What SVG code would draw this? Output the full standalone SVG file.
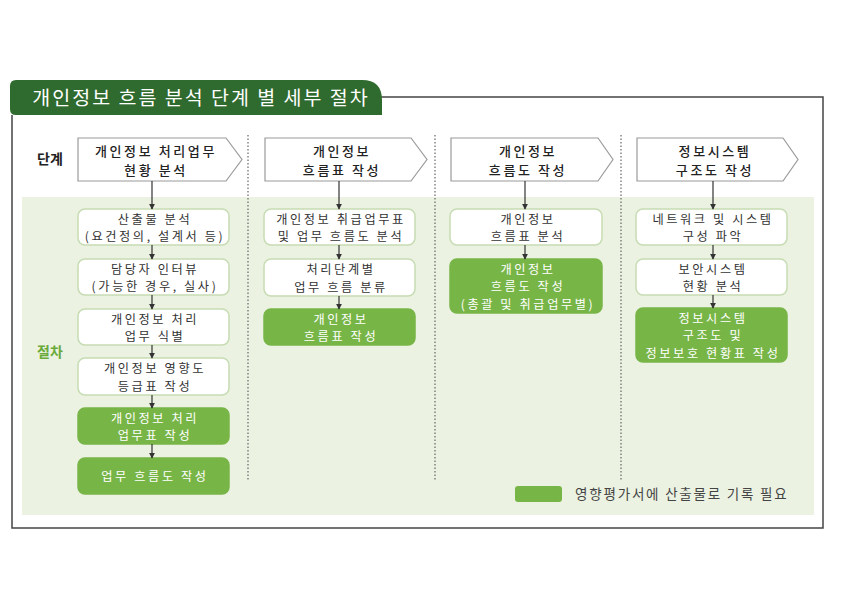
<svg xmlns="http://www.w3.org/2000/svg" width="842" height="595" viewBox="0 0 842 595">
<style>
text{font-family:"Noto Sans CJK KR","Noto Sans",sans-serif;text-anchor:middle}
.stage{fill:#fff;stroke:#9a9a9a;stroke-width:1.2}
.st{font-size:13px;font-weight:500;fill:#222;letter-spacing:2.6px}
.box{fill:#fff;stroke:#c6dcb2;stroke-width:1.5}
.gbox{fill:#78b547;stroke:#78b547;stroke-width:1.5}
.bt{font-size:12.2px;fill:#333;letter-spacing:2.6px}
.gt{font-size:12.2px;fill:#fff;letter-spacing:2.6px}
.sep{stroke:#666;stroke-width:1.2;stroke-dasharray:1.5 2}
.con line{stroke:#333;stroke-width:1.2;marker-end:url(#ah)}
</style>
<defs>
<marker id="ah" viewBox="0 0 8 8" refX="7" refY="4" markerWidth="6" markerHeight="6" markerUnits="userSpaceOnUse" orient="auto"><path d="M0,0 L8,4 L0,8 z" fill="#333"/></marker>
</defs>
<rect width="842" height="595" fill="#fff"/>
<g id="frame">
<path d="M380,97 H823 V528 H12 V115" fill="none" stroke="#444" stroke-width="1.5"/>
<rect x="22" y="197" width="792" height="318" fill="#ebf2e2"/>
</g>
<g id="title">
<path d="M10,86 Q10,80 16,80 H362 Q382,80 382,100 V115 H16 Q10,115 10,109 Z" fill="#2f6a2e"/>
<text x="201" y="105" style="font-size:19.5px;fill:#fff;letter-spacing:2px">개인정보 흐름 분석 단계 별 세부 절차</text>
</g>
<g id="labels">
<text x="50" y="164" style="font-size:14px;font-weight:700;fill:#222">단계</text>
<text x="50" y="357" style="font-size:14px;font-weight:700;fill:#6aaa3a">절차</text>
</g>
<g id="separators">
<line class="sep" x1="248" y1="135" x2="248" y2="480"/>
<line class="sep" x1="435" y1="135" x2="435" y2="480"/>
<line class="sep" x1="621" y1="135" x2="621" y2="480"/>
</g>
<g id="stage1"><path class="stage" d="M78,138 H226 L242,159.5 L226,181 H78 Z"/><text class="st"><tspan x="156" y="156">개인정보 처리업무</tspan><tspan x="156" y="175">현황 분석</tspan></text></g>
<g id="stage2"><path class="stage" d="M265,138 H411 L427,159.5 L411,181 H265 Z"/><text class="st"><tspan x="342" y="156">개인정보</tspan><tspan x="342" y="175">흐름표 작성</tspan></text></g>
<g id="stage3"><path class="stage" d="M451,138 H598 L613,159.5 L598,181 H451 Z"/><text class="st"><tspan x="528" y="156">개인정보</tspan><tspan x="528" y="175">흐름도 작성</tspan></text></g>
<g id="stage4"><path class="stage" d="M637,138 H783 L798,159.5 L783,181 H637 Z"/><text class="st"><tspan x="715" y="156">정보시스템</tspan><tspan x="715" y="175">구조도 작성</tspan></text></g>

<g id="c1b1"><rect class="box" x="78" y="209" width="151" height="36" rx="7"/><text class="bt"><tspan x="155" y="223.5">산출물 분석</tspan><tspan x="155" y="241.2">(요건정의, 설계서 등)</tspan></text></g>
<g id="c1b2"><rect class="box" x="78" y="259" width="151" height="36" rx="7"/><text class="bt"><tspan x="155" y="273.5">담당자 인터뷰</tspan><tspan x="155" y="291.2">(가능한 경우, 실사)</tspan></text></g>
<g id="c1b3"><rect class="box" x="78" y="309" width="151" height="36" rx="7"/><text class="bt"><tspan x="155" y="323.5">개인정보 처리</tspan><tspan x="155" y="341.2">업무 식별</tspan></text></g>
<g id="c1b4"><rect class="box" x="78" y="358" width="151" height="37" rx="7"/><text class="bt"><tspan x="155" y="373">개인정보 영향도</tspan><tspan x="155" y="390.7">등급표 작성</tspan></text></g>
<g id="c1b5"><rect class="gbox" x="78" y="408" width="151" height="36" rx="7"/><text class="gt"><tspan x="155" y="422.5">개인정보 처리</tspan><tspan x="155" y="440.2">업무표 작성</tspan></text></g>
<g id="c1b6"><rect class="gbox" x="78" y="458" width="151" height="36" rx="7"/><text class="gt" x="155" y="480.5">업무 흐름도 작성</text></g>

<g id="c2b1"><rect class="box" x="264" y="209" width="151" height="36" rx="7"/><text class="bt"><tspan x="341" y="223.5">개인정보 취급업무표</tspan><tspan x="341" y="241.2">및 업무 흐름도 분석</tspan></text></g>
<g id="c2b2"><rect class="box" x="264" y="259" width="151" height="37" rx="7"/><text class="bt"><tspan x="341" y="274">처리단계별</tspan><tspan x="341" y="291.7">업무 흐름 분류</tspan></text></g>
<g id="c2b3"><rect class="gbox" x="264" y="309" width="151" height="36" rx="7"/><text class="gt"><tspan x="341" y="323.5">개인정보</tspan><tspan x="341" y="341.2">흐름표 작성</tspan></text></g>

<g id="c3b1"><rect class="box" x="450" y="209" width="152" height="36" rx="7"/><text class="bt"><tspan x="528" y="223.5">개인정보</tspan><tspan x="528" y="241.2">흐름표 분석</tspan></text></g>
<g id="c3b2"><rect class="gbox" x="450" y="259" width="152" height="54" rx="7"/><text class="gt"><tspan x="528" y="273.6">개인정보</tspan><tspan x="528" y="291.3">흐름도 작성</tspan><tspan x="528" y="309">(총괄 및 취급업무별)</tspan></text></g>

<g id="c4b1"><rect class="box" x="636" y="209" width="151" height="36" rx="7"/><text class="bt"><tspan x="713" y="223.5">네트워크 및 시스템</tspan><tspan x="713" y="241.2">구성 파악</tspan></text></g>
<g id="c4b2"><rect class="box" x="636" y="259" width="151" height="36" rx="7"/><text class="bt"><tspan x="713" y="273.5">보안시스템</tspan><tspan x="713" y="291.2">현황 분석</tspan></text></g>
<g id="c4b3"><rect class="gbox" x="636" y="308" width="151" height="54" rx="7"/><text class="gt"><tspan x="713" y="322.6">정보시스템</tspan><tspan x="713" y="340.3">구조도 및</tspan><tspan x="713" y="358">정보보호 현황표 작성</tspan></text></g>

<g id="legend"><rect x="515" y="486" width="47" height="16" rx="3" fill="#78b547"/><text x="575" y="499" style="font-size:13.5px;fill:#444;letter-spacing:1.8px;text-anchor:start">영향평가서에 산출물로 기록 필요</text></g>

<g id="connectors" class="con">
<line x1="152" y1="181" x2="152" y2="209"/>
<line x1="152" y1="245" x2="152" y2="259"/>
<line x1="152" y1="295" x2="152" y2="309"/>
<line x1="152" y1="345" x2="152" y2="358"/>
<line x1="152" y1="395" x2="152" y2="408"/>
<line x1="152" y1="444" x2="152" y2="458"/>
<line x1="339" y1="181" x2="339" y2="209"/>
<line x1="339" y1="245" x2="339" y2="259"/>
<line x1="339" y1="296" x2="339" y2="309"/>
<line x1="525" y1="181" x2="525" y2="209"/>
<line x1="525" y1="245" x2="525" y2="259"/>
<line x1="713" y1="181" x2="713" y2="209"/>
<line x1="713" y1="245" x2="713" y2="259"/>
<line x1="713" y1="295" x2="713" y2="308"/>
</g>
</svg>
